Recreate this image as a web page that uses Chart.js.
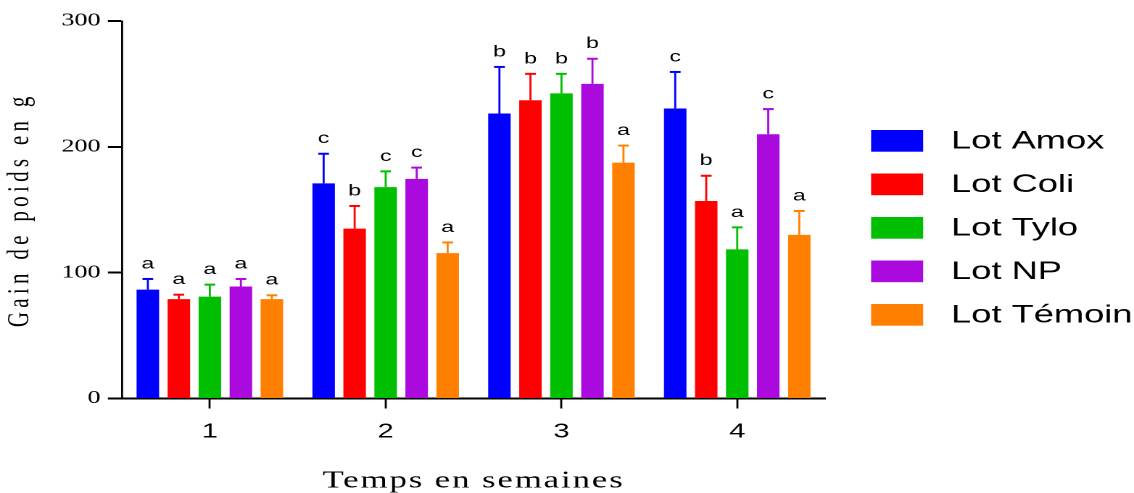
<!DOCTYPE html>
<html><head><meta charset="utf-8">
<script src="https://cdn.jsdelivr.net/npm/chart.js@4/dist/chart.umd.min.js"></script>
<style>html,body{margin:0;padding:0;background:#fff;} canvas{display:block;}</style>
</head><body>
<canvas id="c" width="782" height="493" style="width:1134px;height:493px"></canvas>
<script>
// ---- data ----
const weeks = ['1', '2', '3', '4'];
const seriesNames = ['Lot Amox', 'Lot Coli', 'Lot Tylo', 'Lot NP', 'Lot Témoin'];
const seriesColors = ['#0000FF', '#FF0000', '#00BE00', '#AA0ADE', '#FF8000'];
const amox   = [86.5, 171, 226.5, 230.5];
const coli   = [79, 135, 237, 157];
const tylo   = [81, 168, 242.5, 118.5];
const np     = [89, 174.5, 250, 210];
const temoin = [79, 115.5, 187.5, 130];
const amoxErr   = [8.5, 23.5, 37, 29];
const coliErr   = [3.5, 18, 21, 20];
const tyloErr   = [9.5, 12.5, 15.5, 17.5];
const npErr     = [6, 9, 20, 20];
const temoinErr = [3, 8.5, 13.5, 19];
const amoxSig   = ['a', 'c', 'b', 'c'];
const coliSig   = ['a', 'b', 'b', 'b'];
const tyloSig   = ['a', 'c', 'b', 'a'];
const npSig     = ['a', 'c', 'b', 'c'];
const temoinSig = ['a', 'a', 'a', 'a'];
const yTicks = [0, 100, 200, 300];
const yTitle = 'Gain de poids en g';
const xTitle = 'Temps en semaines';

const values = [amox, coli, tylo, np, temoin];
const errors = [amoxErr, coliErr, tyloErr, npErr, temoinErr];
const sigs = [amoxSig, coliSig, tyloSig, npSig, temoinSig];

const datasets = seriesNames.map((name, i) => ({
  label: name,
  data: values[i],
  errors: errors[i],
  sig: sigs[i],
  backgroundColor: seriesColors[i],
  borderWidth: 0,
  categoryPercentage: 0.882,
  barPercentage: 0.726
}));

const spacingPlugin = {
  id: 'spacing',
  beforeDraw(chart) {
    const wrap = (obj, name, sp) => {
      if (obj['_w_' + name]) return;
      const orig = obj[name];
      obj[name] = function (...a) {
        const c = this.ctx; const p = c.letterSpacing;
        c.letterSpacing = sp;
        const r = orig.apply(this, a);
        c.letterSpacing = p;
        return r;
      };
      obj['_w_' + name] = true;
    };
    wrap(chart.scales.y, 'drawTitle', '4.3px');
    wrap(chart.scales.x, 'drawTitle', '1.3px');
  }
};

const errorPlugin = {
  id: 'errorbars',
  afterDatasetsDraw(chart) {
    const ctx = chart.ctx; const ys = chart.scales.y;
    chart.data.datasets.forEach((ds, i) => {
      const meta = chart.getDatasetMeta(i);
      meta.data.forEach((bar, j) => {
        const top = ys.getPixelForValue(ds.data[j] + ds.errors[j]);
        ctx.save();
        ctx.strokeStyle = ds.backgroundColor;
        ctx.lineWidth = 1.4;
        ctx.beginPath(); ctx.moveTo(bar.x, bar.y); ctx.lineTo(bar.x, top); ctx.stroke();
        ctx.lineWidth = 2;
        ctx.beginPath(); ctx.moveTo(bar.x - 3.7, top); ctx.lineTo(bar.x + 3.7, top); ctx.stroke();
        ctx.fillStyle = '#000';
        ctx.font = '16px "Liberation Sans", Arial, sans-serif';
        ctx.textAlign = 'center'; ctx.textBaseline = 'middle';
        ctx.fillText(ds.sig[j], bar.x, top - 15);
        ctx.restore();
      });
    });
  }
};

const legendPlugin = {
  id: 'customLegend',
  afterDraw(chart) {
    const ctx = chart.ctx;
    const boxX = 600.7, boxW = 35.9, boxH = 21.7, top0 = 130, step = 43.5, textX = 655.9;
    ctx.save();
    chart.data.datasets.forEach((ds, i) => {
      const y = top0 + i * step;
      ctx.fillStyle = ds.backgroundColor;
      ctx.fillRect(boxX, y, boxW, boxH);
      ctx.fillStyle = '#000';
      ctx.font = '25px "Liberation Sans", Arial, sans-serif';
      ctx.textAlign = 'left'; ctx.textBaseline = 'middle';
      ctx.fillText(ds.label, textX, y + boxH / 2 + 1);
    });
    ctx.restore();
  }
};

new Chart(document.getElementById('c'), {
  type: 'bar',
  data: { labels: weeks, datasets },
  plugins: [spacingPlugin, errorPlugin, legendPlugin],
  options: {
    responsive: false,
    devicePixelRatio: 2,
    animation: false,
    layout: { padding: { top: 21, right: 213, bottom: 0, left: 0 } },
    plugins: { legend: { display: false }, tooltip: { enabled: false } },
    scales: {
      x: {
        type: 'category',
        offset: true,
        grid: { display: true, drawOnChartArea: false, drawTicks: true, offset: false, tickLength: 10, tickWidth: 1.4, tickColor: '#000' },
        border: { display: true, color: '#000', width: 2 },
        ticks: { color: '#000', padding: 11.5, font: { family: '"Liberation Sans", Arial, sans-serif', size: 20, lineHeight: 1.2 } },
        title: { display: true, text: xTitle, color: '#000', padding: { top: 0, bottom: 0 }, font: { family: '"Liberation Serif", "Times New Roman", serif', size: 24, lineHeight: 1.0 } },
        afterFit: (s) => { s.height = 94.5; }
      },
      y: {
        min: 0, max: 300,
        afterBuildTicks: (s) => { s.ticks = yTicks.map(v => ({ value: v })); },
        grid: { display: true, drawOnChartArea: false, drawTicks: true, tickLength: 9.7, tickWidth: 2, tickColor: '#000' },
        border: { display: true, color: '#000', width: 1.4 },
        ticks: { color: '#000', padding: 5, font: { family: '"Liberation Serif", "Times New Roman", serif', size: 18 } },
        title: { display: true, text: yTitle, color: '#000', padding: { top: 1.2, bottom: 0 }, font: { family: '"Liberation Serif", "Times New Roman", serif', size: 21 } },
        afterFit: (s) => { s.width = 84.1; }
      }
    }
  }
});
</script>
</body></html>
